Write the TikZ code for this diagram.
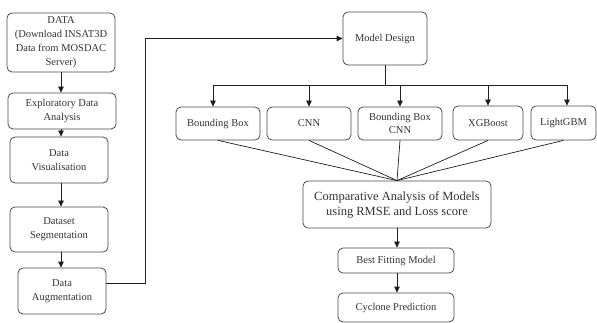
\documentclass[tikz,border=0pt]{standalone}
\usepackage{fontspec}
\setmainfont{Liberation Serif}
\usetikzlibrary{arrows.meta,calc}
\definecolor{boxline}{HTML}{4A4A4A}
\definecolor{txt}{HTML}{333333}
\definecolor{wire}{HTML}{1E1E1E}
\begin{document}
\begin{tikzpicture}[x=1pt,y=-1pt,
  box/.style={draw=boxline,line width=0.8pt,rounded corners=5pt,align=center,
    text=txt,inner sep=1pt,font=\fontsize{10.5}{14}\selectfont},
  bigbox/.style={box,font=\fontsize{12.5}{15}\selectfont},
  arr/.style={draw=wire,line width=0.8pt,-{Triangle[length=6pt,width=5.5pt]}},
  wireln/.style={draw=wire,line width=0.7pt}]
\useasboundingbox (0,0) rectangle (597,323);
% left column
\node[box,minimum width=108pt,minimum height=59pt] (data) at (61,42.5)
  {DATA\\(Download INSAT3D\\Data from MOSDAC\\Server)};
\node[box,minimum width=108pt,minimum height=36pt] (eda) at (62,111)
  {Exploratory Data\\Analysis};
\node[box,minimum width=98pt,minimum height=46pt] (vis) at (59,160)
  {Data\\Visualisation};
\node[box,minimum width=98pt,minimum height=45pt] (seg) at (59,229.5)
  {Dataset\\Segmentation};
\node[box,minimum width=88pt,minimum height=46pt] (aug) at (62,291)
  {Data\\Augmentation};
\draw[arr] (data.south) -- (data.south |- eda.north);
\draw[arr] (data.south |- eda.south) -- (data.south |- vis.north);
\draw[arr] (data.south |- vis.south) -- (data.south |- seg.north);
\draw[arr] (data.south |- seg.south) -- (data.south |- aug.north);
% model design
\node[box,minimum width=84pt,minimum height=53pt] (md) at (385,38.5) {Model Design};
\draw[arr] ([yshift=8pt]aug.east) -- ++(39,0) |- (md.west);
% models row
\node[box,minimum width=84pt,minimum height=33pt] (bb) at (218,123.5) {Bounding Box};
\node[box,minimum width=84pt,minimum height=33pt] (cnn) at (309,123.5) {CNN};
\node[box,minimum width=84pt,minimum height=33pt,font=\fontsize{10.5}{13}\selectfont] (bbcnn) at (400,123.5) {Bounding Box\\CNN};
\node[box,minimum width=70pt,minimum height=34pt] (xgb) at (488,123) {XGBoost};
\node[box,minimum width=65pt,minimum height=34pt] (lgbm) at (563.5,123) {LightGBM};
\draw[wireln] (md.south) -- ++(0,20) coordinate (bus);
\draw[arr] (bus) -| ([xshift=-5pt]bb.north);
\draw[arr] (bus) -| (cnn.north);
\draw[arr] (bus) -| (bbcnn.north);
\draw[arr] (bus) -| (xgb.north);
\draw[arr] (bus) -| ([xshift=3.5pt]lgbm.north);
% comparative
\node[bigbox,minimum width=188pt,minimum height=47pt] (comp) at (397,204.5)
  {Comparative Analysis of Models\\using RMSE and Loss score};
\foreach \n in {bb,cnn,bbcnn,xgb,lgbm}
  \draw[wireln] (\n.south) -- (comp.north);
\node[box,minimum width=116pt,minimum height=25pt] (best) at (396,260.5) {Best Fitting Model};
\node[box,minimum width=116pt,minimum height=29pt] (cyc) at (396,307.5) {Cyclone Prediction};
\draw[arr] (comp.south) -- (comp.south |- best.north);
\draw[arr] (comp.south |- best.south) -- (comp.south |- cyc.north);
\end{tikzpicture}
\end{document}
